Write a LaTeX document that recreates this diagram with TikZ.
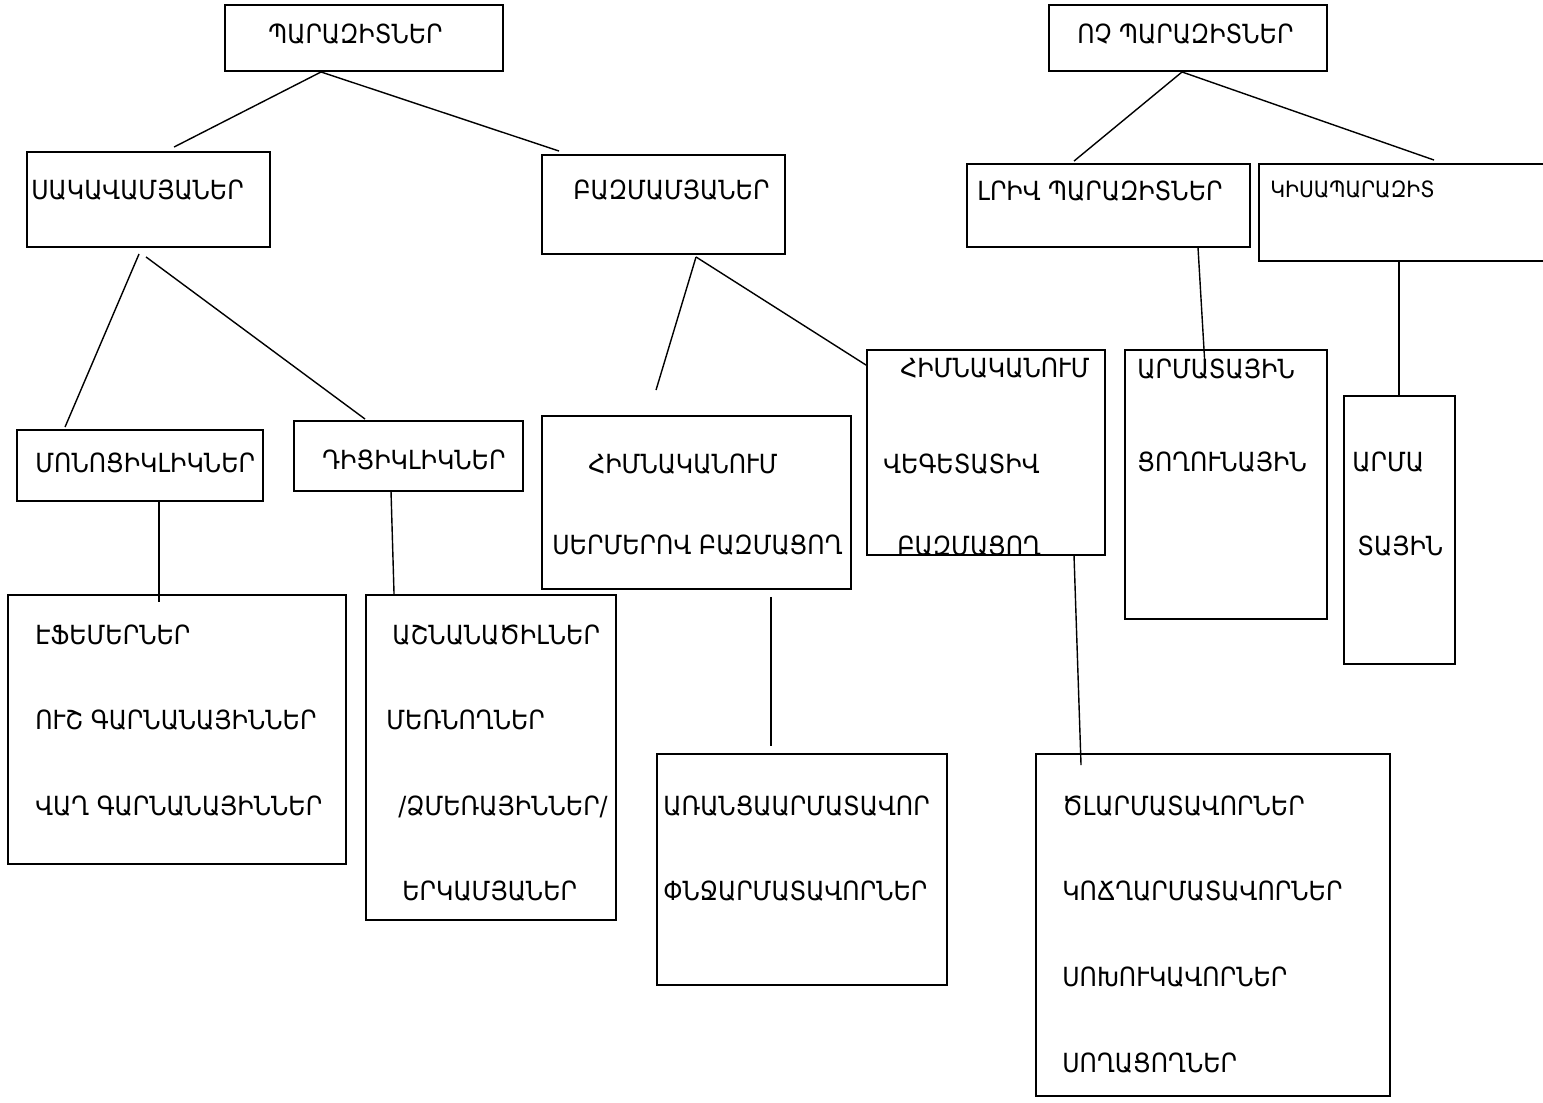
\documentclass[tikz,border=0pt]{standalone}
\usepackage{fontspec}
\usetikzlibrary{fit,calc}
\newfontfamily\armfont[FakeStretch=0.9]{DejaVu Sans}

\begin{document}
\begin{tikzpicture}[x=0.2mm,y=-0.2mm,
  box/.style={draw=black, line width=1.1pt, inner sep=0pt, rectangle},
  lbl/.style={anchor=base west, inner sep=0pt, font=\armfont\fontsize{15}{18}\selectfont},
  lblsmall/.style={lbl, font=\armfont\fontsize{12.8}{15}\selectfont},
  link/.style={line width=0.8pt}]
\useasboundingbox (0,0) rectangle (1543,1102);
\clip (0,0) rectangle (1543,1102);

\node[box, fit={(225,5) (503,71)}] (par) {};
\node[box, fit={(1049,5) (1327,71)}] (voch) {};
\node[box, fit={(27,152) (270,247)}] (sakav) {};
\node[box, fit={(542,155) (785,254)}] (bazm) {};
\node[box, fit={(967,164) (1250,247)}] (lriv) {};
\node[box, fit={(1259,164) (1570,261)}] (kis) {};
\node[box, fit={(17,430) (263,501)}] (mono) {};
\node[box, fit={(294,421) (523,491)}] (di) {};
\node[box, fit={(542,416) (851,589)}] (serm) {};
\node[box, fit={(867,350) (1105,555)}] (veg) {};
\node[box, fit={(1125,350) (1327,619)}] (arm) {};
\node[box, fit={(1344,396) (1455,664)}] (arma) {};
\node[box, fit={(8,595) (346,864)}] (efem) {};
\node[box, fit={(366,595) (616,920)}] (ashn) {};
\node[box, fit={(657,754) (947,985)}] (arran) {};
\node[box, fit={(1036,754) (1390,1096)}] (cl) {};

\node[lbl] (parT) at (268,43) {ՊԱՐԱԶԻՏՆԵՐ};
\node[lbl] (vochT) at (1077,43) {ՈՉ ՊԱՐԱԶԻՏՆԵՐ};
\node[lbl] (sakavT) at (31,199) {ՍԱԿԱՎԱՄՅԱՆԵՐ};
\node[lbl] (bazmT) at (573,199) {ԲԱԶՄԱՄՅԱՆԵՐ};
\node[lbl] (lrivT) at (977,200) {ԼՐԻՎ ՊԱՐԱԶԻՏՆԵՐ};
\node[lblsmall] (kisT) at (1270,197) {ԿԻՍԱՊԱՐԱԶԻՏ};
\node[lbl] (monoT) at (35,472) {ՄՈՆՈՑԻԿԼԻԿՆԵՐ};
\node[lbl] (diT) at (322,469) {ԴԻՑԻԿԼԻԿՆԵՐ};
\node[lbl] (sermT1) at (588,473) {ՀԻՄՆԱԿԱՆՈՒՄ};
\node[lbl] (sermT2) at (552,554) {ՍԵՐՄԵՐՈՎ ԲԱԶՄԱՑՈՂ};
\node[lbl] (vegT1) at (900,377) {ՀԻՄՆԱԿԱՆՈՒՄ};
\node[lbl] (vegT2) at (883,473) {ՎԵԳԵՏԱՏԻՎ};
\node[lbl] (vegT3) at (897,555) {ԲԱԶՄԱՑՈՂ};
\node[lbl] (armT1) at (1137,378) {ԱՐՄԱՏԱՅԻՆ};
\node[lbl] (armT2) at (1137,471) {ՑՈՂՈՒՆԱՅԻՆ};
\node[lbl] (armaT1) at (1352,471) {ԱՐՄԱ};
\node[lbl] (armaT2) at (1357,555) {ՏԱՅԻՆ};
\node[lbl] (efemT1) at (35,644) {ԷՖԵՄԵՐՆԵՐ};
\node[lbl] (efemT2) at (35,729) {ՈՒՇ ԳԱՐՆԱՆԱՅԻՆՆԵՐ};
\node[lbl] (efemT3) at (35,815) {ՎԱՂ ԳԱՐՆԱՆԱՅԻՆՆԵՐ};
\node[lbl] (ashnT1) at (392,644) {ԱՇՆԱՆԱԾԻԼՆԵՐ};
\node[lbl] (ashnT2) at (386,729) {ՄԵՌՆՈՂՆԵՐ};
\node[lbl] (ashnT3) at (398,815) {/ՁՄԵՌԱՅԻՆՆԵՐ/};
\node[lbl] (ashnT4) at (402,900) {ԵՐԿԱՄՅԱՆԵՐ};
\node[lbl] (arranT1) at (663,815) {ԱՌԱՆՑԱԱՐՄԱՏԱՎՈՐ};
\node[lbl] (arranT2) at (663,900) {ՓՆՋԱՐՄԱՏԱՎՈՐՆԵՐ};
\foreach \y/\t in {815/ԾԼԱՐՄԱՏԱՎՈՐՆԵՐ, 900/ԿՈՃՂԱՐՄԱՏԱՎՈՐՆԵՐ, 986/ՍՈԽՈՒԿԱՎՈՐՆԵՐ, 1072/ՍՈՂԱՑՈՂՆԵՐ}{
  \node[lbl] (clT-\y) at (1062,\y) {\t};
}

\draw[link] ($(par.south west)+(97,0)$) -- ($(sakav.north west)+(148,-4)$);
\draw[link] ($(par.south west)+(97,0)$) -- ($(bazm.north west)+(18,-3)$);
\draw[link] ($(voch.south west)+(134,0)$) -- ($(lriv.north west)+(108,-2)$);
\draw[link] ($(voch.south west)+(134,0)$) -- ($(kis.north west)+(176,-3)$);
\draw[link] ($(sakav.south west)+(113,6)$) -- ($(mono.north west)+(49,-2)$);
\draw[link] ($(sakav.south west)+(120,9)$) -- ($(di.north west)+(72,-1)$);
\draw[link] ($(bazm.south west)+(155,2)$) -- ($(serm.north west)+(115,-25)$);
\draw[link] ($(bazm.south west)+(155,2)$) -- ($(veg.north west)+(0,16)$);
\draw[link] ($(lriv.south west)+(232,0)$) -- ($(arm.north west)+(81,18)$);
\draw[link] ($(kis.south west)+(141,0)$) -- ($(arma.north west)+(56,0)$);
\draw[link] ($(mono.south west)+(143,0)$) -- ($(efem.north west)+(152,8)$);
\draw[link] ($(di.south west)+(98,0)$) -- ($(ashn.north west)+(29,0)$);
\draw[link] ($(serm.south west)+(230,7)$) -- ($(arran.north west)+(115,-7)$);
\draw[link] ($(veg.south west)+(208,0)$) -- ($(cl.north west)+(46,12)$);
\end{tikzpicture}
\end{document}
